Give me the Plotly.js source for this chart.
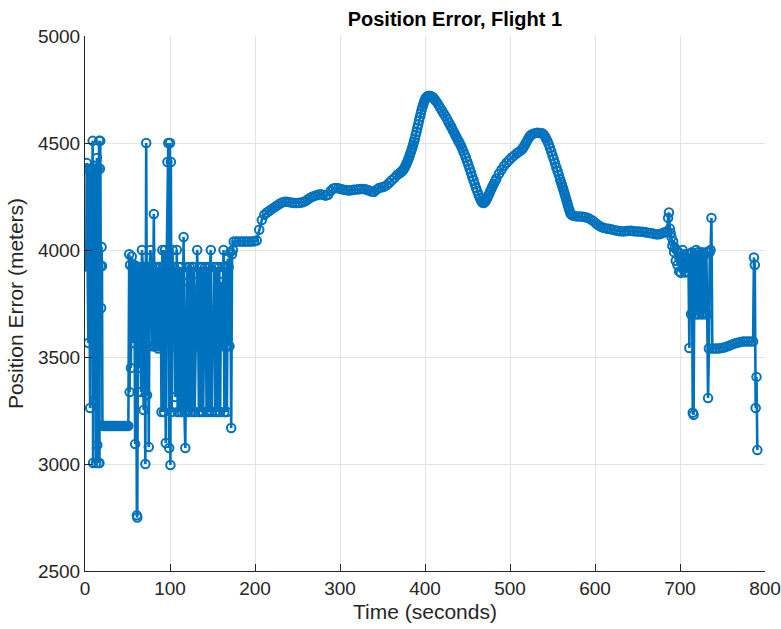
<!DOCTYPE html>
<html>
<head>
<meta charset="utf-8">
<script src="https://cdn.plot.ly/plotly-3.0.1.min.js"></script>
<style>html,body{margin:0;padding:0;background:#fff;}#chart{width:781px;height:629px;}</style>
</head>
<body>
<div id="chart"></div>
<script>
// Segment 1: initial oscillation (0-20 s)
var tStart = [0,0.5,1,1.5,2,2.5,3,4,4.5,5,6,6.5,7,8,9,9.5,10,11,11.5,12,12.5,13,14,14.5,15,15.5,16,16.5,17,17.5,18,18.5,19,19.5,20,20.5];
var eStart = [3960,3925,3925,3925,4407,4380,3925,3565,4380,3925,3262,3925,4380,3925,4510,3005,4380,3925,3300,4380,3925,3005,4430,3089,4380,3925,3005,4510,3005,4380,4510,3925,3729,4014,3925,3180];

// Segment 2: flat hold (21-51 s)
var tHold = [21,22.5,24,25.5,27,28.5,30,31.5,33,34.5,36,37.5,39,40.5,42,43.5,45,46.5,48,49.5,51];
var eHold = [3178,3178,3178,3178,3178,3178,3178,3178,3178,3178,3178,3178,3178,3178,3178,3178,3178,3178,3178,3178,3178];

// Segment 3: second oscillation (52-174 s)
var tOsc = [52,52.5,53,54,55,56,57,58,59,60,61,61.5,62,63,64,65,66,67,68,69,70,71,72,73,74,75,76,77,78,79,80,81,82,83,84,85,86,87,88,89,90,91,92,93,94,95,96,97,98,99,100,100.5,101,102,103,104,105,106,107,108,109,110,111,112,113,114,115,116,117,118,119,120,121,122,123,124,125,126,127,128,129,130,131,132,133,134,135,136,137,138,139,140,141,142,143,144,145,146,147,148,149,150,151,152,153,154,155,156,157,158,159,160,161,162,163,164,165,166,167,168,169,170,171,172,173,174];
var eOsc = [3980,3336,3930,3449,3970,3920,3565,3930,3093,3920,2760,2750,3336,3920,3449,3920,3336,4000,3920,3252,3920,3000,4500,3322,3920,3079,3920,4000,3920,3550,3710,4168,3550,3920,3550,3920,3540,3920,3550,3920,3243,4000,3920,3243,4000,3098,3920,4411,4500,3075,4500,2995,4411,3243,4000,3550,3920,3313,3550,4000,3243,3920,3243,3550,3920,3243,3850,4061,3243,3075,3550,3920,3243,3550,3920,3243,3550,3920,3243,3920,3243,3550,3850,4000,3720,3243,3920,3243,3550,3920,3243,3550,3920,3850,3243,3920,3550,3243,3920,4000,3243,3720,3550,3920,3243,3550,3920,3243,3550,3920,3243,3850,3550,3920,4000,3243,3920,3550,3243,3960,3920,3550,3990,3168,3980,4000];

// Segment 4: smooth trajectory (175-685 s), read in pieces
var tSmoothA = [175,178,181,184,187,190,193,196,199,202,205,208,211,214,217,220,223,226,229,232,235,238,241,244,247,250,253,256,259,262,265,268,271,274,277,280,283,286,289,292,295,298,301,304,307,310,313,316,319,322,325,328,331,334,337,340,343,346,349,352,355,358,361,364,367,370];
var eSmoothA = [4040,4040,4040,4040,4040,4040,4040,4040,4041,4044,4095,4140,4165,4175,4183,4192,4200,4208,4216,4222,4226,4225,4223,4221,4220,4220,4221,4223,4228,4236,4244,4250,4254,4258,4260,4258,4254,4258,4276,4287,4290,4288,4285,4282,4280,4278,4279,4281,4283,4284,4285,4285,4283,4278,4273,4272,4282,4290,4293,4296,4303,4314,4326,4337,4350,4358];
var tSmoothB = [371,372,373,374,375,376,377,378,379,380,381,382,383,384,385,386,387,388,389,390,391,392,393,394,395,396,397,398,399,400,401,402,403,404,405,406,407,408,409,410,411,412];
var eSmoothB = [4362,4365,4368,4372,4378,4385,4393,4401,4410,4420,4431,4442,4454,4466,4478,4492,4506,4520,4537,4553,4570,4587,4605,4622,4638,4654,4668,4681,4693,4703,4710,4715,4718,4720,4720,4720,4718,4716,4714,4710,4705,4700];
var tSmoothC = [414,416,418,420,422,424,426,428,430];
var eSmoothC = [4690,4677,4664,4651,4638,4625,4611,4596,4582];
var tSmoothD = [431.5,433,434.5,436,437.5,439,440.5,442,443.5,445,446.5,448,449.5,451,452.5,454,455.5,457,458.5,460,461.5,463,464.5,466,467.5,469,470.5,472,473.5,475,476.5,478,479.5,481,482.5,484];
var eSmoothD = [4570,4558,4547,4535,4523,4512,4501,4490,4476,4462,4447,4432,4415,4398,4380,4362,4344,4326,4308,4290,4274,4258,4243,4230,4222,4220,4224,4232,4245,4258,4272,4285,4298,4310,4322,4334];
var tSmoothE = [487,490,493,496,499,502,505,508,511,514,515.5,517,518.5,520,521.5,523,524.5,526,529,532,535,538,539.5];
var eSmoothE = [4356,4375,4393,4408,4420,4432,4442,4452,4460,4470,4478,4488,4499,4510,4520,4530,4536,4541,4546,4548,4547,4545,4540];
var tSmoothF = [541,542.5,544,545.5,547,548.5,550,551.5,553,554.5,556,557.5,559,560,561,562,563,564,565,566,567,568,569,570,571,572,573,574];
var eSmoothF = [4532,4521,4508,4494,4478,4460,4442,4424,4405,4386,4368,4349,4330,4317,4305,4292,4279,4265,4252,4238,4224,4210,4197,4184,4172,4167,4163,4161];
var tSmoothG = [577,580,583,586,589,592,595,598,601,604,607,610,613,616,619,622,625,628,631,634,637,640,643,646,649,652,655,658,661,664,667,670,673,676,679,682,685];
var eSmoothG = [4158,4157,4157,4155,4153,4149,4143,4135,4125,4116,4109,4104,4101,4099,4097,4094,4091,4089,4088,4087,4089,4090,4090,4088,4087,4086,4085,4084,4082,4080,4078,4075,4073,4074,4078,4083,4088];

// Segment 5: late oscillation (686-737 s)
var tLate = [686,687,688,689,690,691,692,693,694,695,696,697,698,699,700,701,702,703,704,705,706,707,708,709,710,711,712,713,714,715,716,717,718,719,720,721,722,723,724,725,726,727,728,729,730,731,732,733,734,735,736,737];
var eLate = [4150,4175,4100,4080,4060,4020,4040,3990,4010,3950,4000,3930,3990,3900,3960,3893,3950,4000,3910,3980,3895,3960,3900,3980,3920,3542,3980,3700,3990,3240,3230,3980,3700,4000,3700,3990,3700,3980,3980,3700,3990,3700,3980,3980,3700,3990,3700,3308,3540,3990,4000,4150];

// Segment 6: final hold and end (738-791 s)
var tEnd = [738,741,744,747,750,753,756,759,762,765,768,771,774,777,780,783,786,787,788,789,790,791];
var eEnd = [3540,3540,3540,3541,3543,3546,3550,3555,3560,3564,3567,3570,3572,3573,3573,3573,3573,3965,3930,3262,3407,3065];

var timeS = [].concat(tStart, tHold, tOsc, tSmoothA, tSmoothB, tSmoothC, tSmoothD, tSmoothE, tSmoothF, tSmoothG, tLate, tEnd);
var errM = [].concat(eStart, eHold, eOsc, eSmoothA, eSmoothB, eSmoothC, eSmoothD, eSmoothE, eSmoothF, eSmoothG, eLate, eEnd);

var blue = '#0072BD';
var trace = {
  x: timeS, y: errM, type: 'scatter', mode: 'lines+markers',
  line: {color: blue, width: 2.6},
  marker: {symbol: 'circle-open', size: 8.5, color: blue, line: {color: blue, width: 2}},
  hoverinfo: 'skip'
};

var font = 'Liberation Sans, Arial, Helvetica, sans-serif';
var axisCommon = {
  showline: true, linecolor: '#262626', linewidth: 1,
  ticks: 'inside', ticklen: 7, tickcolor: '#262626', tickwidth: 1,
  showgrid: true, gridcolor: '#e3e3e3', gridwidth: 1,
  zeroline: false, mirror: false,
  tickfont: {family: font, size: 19, color: '#262626'}
};

var layout = {
  width: 781, height: 629,
  margin: {l: 85, r: 16, t: 36, b: 58},
  paper_bgcolor: '#fff', plot_bgcolor: '#fff',
  showlegend: false,
  font: {family: font, color: '#262626'},
  title: {text: '<b>Position Error, Flight 1</b>', font: {family: font, size: 20, color: '#000'},
          x: 0.544, xanchor: 'center', xref: 'paper', y: 0.970, yanchor: 'middle'},
  xaxis: Object.assign({}, axisCommon, {
    range: [0, 800], tickvals: [0,100,200,300,400,500,600,700,800],
    title: {text: 'Time (seconds)', font: {family: font, size: 21, color: '#262626'}, standoff: 6}
  }),
  yaxis: Object.assign({}, axisCommon, {
    range: [2500, 5000], tickvals: [2500,3000,3500,4000,4500,5000],
    title: {text: 'Position Error (meters)', font: {family: font, size: 21, color: '#262626'}, standoff: 8}
  })
};

Plotly.newPlot('chart', [trace], layout, {displayModeBar: false, staticPlot: true});
</script>
</body>
</html>
